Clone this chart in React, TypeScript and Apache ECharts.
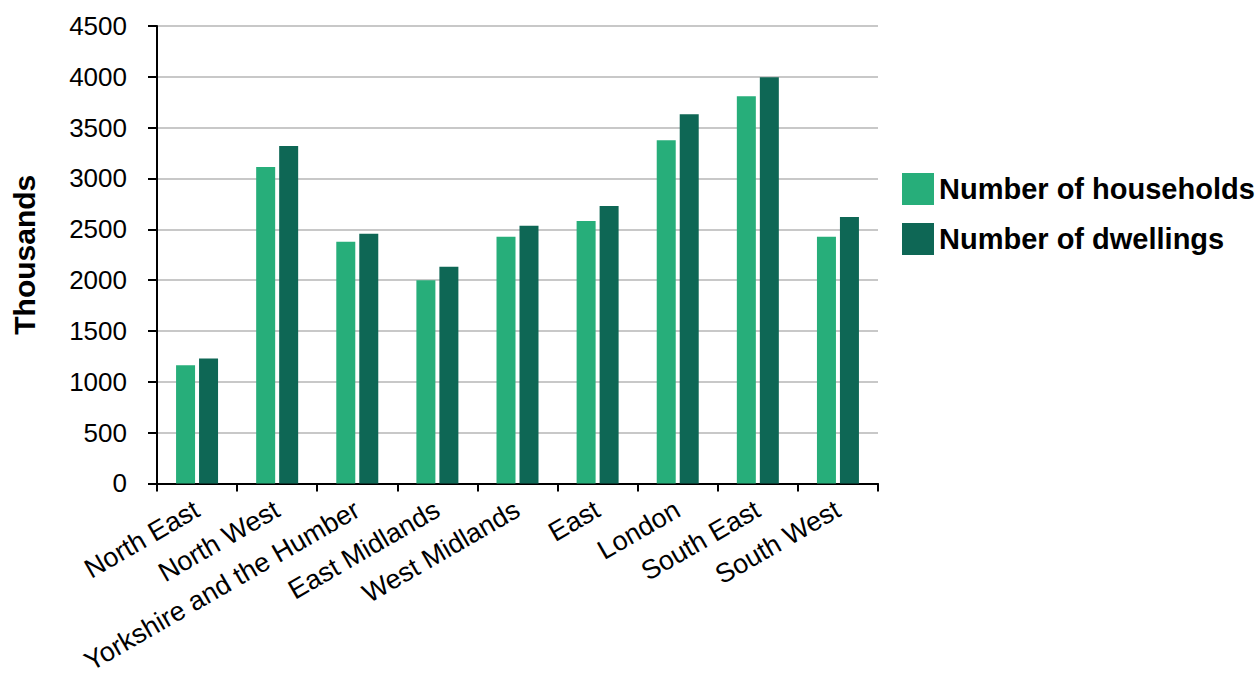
import React, { useEffect, useRef } from "react";
import * as echarts from "echarts";

const regions = [
  "North East",
  "North West",
  "Yorkshire and the Humber",
  "East Midlands",
  "West Midlands",
  "East",
  "London",
  "South East",
  "South West",
];
const households = [1162, 3113, 2377, 2000, 2426, 2583, 3377, 3809, 2426];
const dwellings = [1230, 3319, 2456, 2132, 2534, 2730, 3632, 3995, 2622];
const seriesNames = ["Number of households", "Number of dwellings"];
const yTitle = "Thousands";

const FONT = "'Liberation Sans', Arial, sans-serif";

export default function App() {
  const ref = useRef<HTMLDivElement>(null);
  useEffect(() => {
    if (!ref.current) return;
    const chart = echarts.init(ref.current, undefined, { renderer: "svg" });
    chart.setOption({
      animation: false,
      backgroundColor: "#ffffff",
      grid: { left: 157, right: 382, top: 26, bottom: 191.5, containLabel: false },
      legend: {
        orient: "vertical",
        left: 897,
        top: 168,
        itemWidth: 32,
        itemHeight: 32,
        itemGap: 18,
        icon: "rect",
        textStyle: { fontFamily: FONT, fontSize: 29, fontWeight: "bold", color: "#000" },
        data: seriesNames,
      },
      xAxis: {
        type: "category",
        data: regions,
        boundaryGap: true,
        axisLine: { lineStyle: { color: "#000", width: 2 } },
        axisTick: { show: true, length: 8, lineStyle: { color: "#000", width: 2 } },
        axisLabel: {
          rotate: 30,
          interval: 0,
          margin: 24,
          fontFamily: FONT,
          fontSize: 27,
          color: "#000",
        },
      },
      yAxis: {
        type: "value",
        min: 0,
        max: 4500,
        interval: 500,
        name: yTitle,
        nameLocation: "middle",
        nameGap: 118,
        nameTextStyle: { fontFamily: FONT, fontSize: 30, fontWeight: "bold", color: "#000" },
        axisLine: { show: true, lineStyle: { color: "#000", width: 2 } },
        axisTick: { show: true, length: 9, lineStyle: { color: "#000", width: 2 } },
        axisLabel: {
          margin: 30,
          fontFamily: FONT,
          fontSize: 26,
          color: "#000",
          formatter: (v: number) => String(v),
        },
        splitLine: { show: true, lineStyle: { color: "#c8c8c8", width: 2 } },
      },
      series: [
        {
          name: seriesNames[0],
          type: "bar",
          data: households,
          barWidth: 19,
          barGap: "21%",
          itemStyle: { color: "#27ae7a" },
        },
        {
          name: seriesNames[1],
          type: "bar",
          data: dwellings,
          barWidth: 19,
          barGap: "21%",
          itemStyle: { color: "#0e6755" },
        },
      ],
    });
    return () => chart.dispose();
  }, []);
  return <div ref={ref} style={{ width: 1260, height: 677, position: "absolute", left: 0, top: 0 }} />;
}
